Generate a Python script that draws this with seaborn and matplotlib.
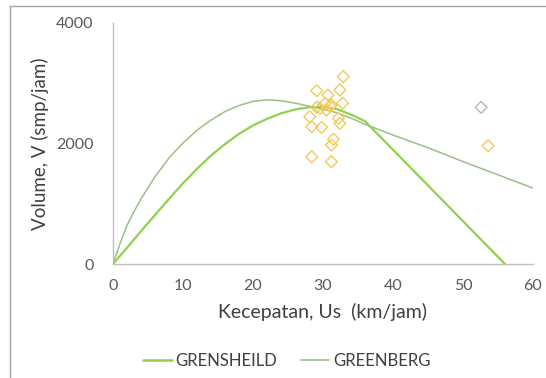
import matplotlib
matplotlib.use("Agg")
import matplotlib.pyplot as plt
import seaborn as sns
import pandas as pd
from matplotlib.lines import Line2D

# Greenshields curve
gs_speed = [0, 2, 4, 6, 8, 10, 12, 14, 16, 18, 20, 22, 24, 26, 28, 30, 32, 34, 36, 56]
gs_volume = [0, 270, 545, 815, 1080, 1340, 1580, 1800, 1990, 2160, 2300, 2410, 2500,
             2565, 2600, 2610, 2570, 2480, 2370, 0]

# Greenberg curve
gb_speed = [0, 1, 2, 3, 4, 6, 8, 10, 12, 14, 16, 18, 20, 22, 24, 26, 28, 30, 32, 34,
            36, 38, 40, 45, 50, 55, 60]
gb_volume = [0, 340, 640, 870, 1080, 1450, 1760, 2010, 2220, 2390, 2530, 2630, 2700,
             2725, 2710, 2670, 2620, 2570, 2510, 2420, 2320, 2230, 2140, 1930, 1700,
             1480, 1260]

# Observed data
obs_speed = [32.9, 29.1, 32.4, 30.7, 32.8, 30.3, 29.1, 31.2, 30.5, 29.6, 28.1, 32.2,
             32.4, 28.4, 29.8, 31.5, 31.2, 28.4, 31.2, 31.0, 53.6]
obs_volume = [3109, 2876, 2888, 2805, 2667, 2667, 2600, 2639, 2556, 2584, 2445, 2418,
              2335, 2279, 2268, 2069, 1975, 1781, 1698, 2620, 1963]

# Highlighted point
hl_speed = [52.6]
hl_volume = [2600]

x_ticks = [0, 10, 20, 30, 40, 50, 60]
y_ticks = [0, 2000, 4000]

sns.set_theme(style="white")
plt.rcParams['font.family'] = ['Lato', 'DejaVu Sans']

fig = plt.figure(figsize=(5.46, 3.78), dpi=100)
ax = fig.add_axes([113 / 546, 1 - 264 / 378, 420 / 546, 241 / 378])

c_gs = "#92D050"
c_gb = "#9DBE88"
c_obs = "#F3C95C"
grey = "#595959"

df_gs = pd.DataFrame({"U": gs_speed, "V": gs_volume})
df_gb = pd.DataFrame({"U": gb_speed, "V": gb_volume})
df_obs = pd.DataFrame({"U": obs_speed, "V": obs_volume})
df_hl = pd.DataFrame({"U": hl_speed, "V": hl_volume})

sns.lineplot(data=df_gs, x="U", y="V", ax=ax, color=c_gs, lw=1.6, sort=False,
             estimator=None, zorder=3)
sns.lineplot(data=df_gb, x="U", y="V", ax=ax, color=c_gb, lw=1.1, sort=False,
             estimator=None, zorder=2)
sns.scatterplot(data=df_obs, x="U", y="V", ax=ax, marker="D", s=36,
                facecolor="none", edgecolor=c_obs, linewidth=1.0, zorder=4)
sns.scatterplot(data=df_hl, x="U", y="V", ax=ax, marker="D", s=36,
                facecolor="none", edgecolor="#B8B8B8", linewidth=1.0, zorder=4)

ax.set_xlim(0, 60)
ax.set_ylim(0, 4000)
ax.set_xticks(x_ticks)
ax.set_yticks(y_ticks)
ax.set_xticklabels([str(t) for t in x_ticks])
ax.set_yticklabels([str(t) for t in y_ticks])
ax.tick_params(axis="both", length=0, labelsize=11.5, colors=grey)
ax.tick_params(axis="x", pad=11)
ax.tick_params(axis="y", pad=14)
for s in ["top", "right"]:
    ax.spines[s].set_visible(False)
for s in ["left", "bottom"]:
    ax.spines[s].set_color("#BFBFBF")
    ax.spines[s].set_linewidth(1.0)

ax.set_xlabel("Kecepatan, Us  (km/jam)", fontsize=14, color="#404040", labelpad=7)
ax.set_ylabel("Volume, V (smp/jam)", fontsize=13.5, color="#404040", labelpad=5)

handles = [Line2D([], [], color=c_gs, lw=1.8), Line2D([], [], color=c_gb, lw=1.2)]
fig.legend(handles, ["GRENSHEILD", "GREENBERG"], loc="center",
           bbox_to_anchor=(287 / 546, 1 - 361 / 378), ncol=2, frameon=False,
           fontsize=12, labelcolor="#404040", handlelength=1.7, columnspacing=1.4,
           handletextpad=0.25)

# figure border (left and top visible)
fig.add_artist(Line2D([10 / 546, 10 / 546], [0, 1 - 6 / 378], color="#A6A6A6",
                      lw=1.0, transform=fig.transFigure))
fig.add_artist(Line2D([10 / 546, 1], [1 - 6 / 378, 1 - 6 / 378], color="#A6A6A6",
                      lw=1.0, transform=fig.transFigure))

fig.savefig("out.png", dpi=100)
